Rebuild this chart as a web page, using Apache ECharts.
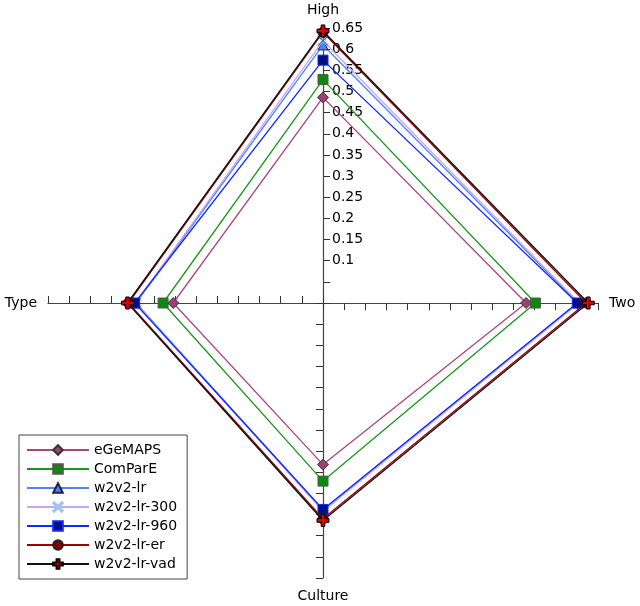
<!DOCTYPE html>
<html><head><meta charset="utf-8">
<script src="https://cdn.jsdelivr.net/npm/echarts@6/dist/echarts.min.js"></script>
<style>html,body{margin:0;padding:0;background:#fff}#c{width:640px;height:606px}</style>
</head><body><div id="c"></div>
<script>
// Axes (counter-clockwise from top)
var axesNames = ['High', 'Type', 'Culture', 'Two'];
var axisMax = 0.65;
var seriesNames = ['eGeMAPS', 'ComParE', 'w2v2-lr', 'w2v2-lr-300', 'w2v2-lr-960', 'w2v2-lr-er', 'w2v2-lr-vad'];
// values per series, order: High, Type, Culture, Two
var eGeMAPS   = [0.486, 0.354, 0.382, 0.480];
var ComParE   = [0.528, 0.378, 0.421, 0.502];
var w2v2lr    = [0.610, 0.442, 0.490, 0.602];
var w2v2lr300 = [0.620, 0.443, 0.492, 0.605];
var w2v2lr960 = [0.574, 0.445, 0.488, 0.601];
var w2v2lrer  = [0.640, 0.460, 0.510, 0.622];
var w2v2lrvad = [0.643, 0.462, 0.514, 0.627];
var seriesValues = [eGeMAPS, ComParE, w2v2lr, w2v2lr300, w2v2lr960, w2v2lrer, w2v2lrvad];

var X_PATH = 'path://M0,1 L1,0 L5,4 L9,0 L10,1 L6,5 L10,9 L9,10 L5,6 L1,10 L0,9 L4,5 Z';
var PLUS_PATH = 'path://M3.5,0 L6.5,0 L6.5,3.5 L10,3.5 L10,6.5 L6.5,6.5 L6.5,10 L3.5,10 L3.5,6.5 L0,6.5 L0,3.5 L3.5,3.5 Z';
var styles = [
  {line: '#a8487a', fill: '#a04070', border: '#333', symbol: 'diamond', size: 11},
  {line: '#1a961a', fill: '#0a8a0a', border: '#555', symbol: 'rect', size: 10},
  {line: '#4f82ff', fill: '#4f82ff', border: '#224', symbol: 'triangle', size: 10},
  {line: '#c6a6f4', fill: '#2a5fb0', border: '#9cc8f0', symbol: X_PATH, size: 11},
  {line: '#1028ff', fill: '#001080', border: '#1028ff', symbol: 'rect', size: 10},
  {line: '#a00000', fill: '#800000', border: '#222', symbol: 'circle', size: 10},
  {line: '#111111', fill: '#e00000', border: '#000', symbol: PLUS_PATH, size: 12}
];

var FONT = 'DejaVu Sans';
var series = [];
// legend helper series (empty data) so legend shows line + marker
seriesNames.forEach(function (n, i) {
  var s = styles[i];
  series.push({
    type: 'line', name: n, data: [], xAxisIndex: 0, yAxisIndex: 0,
    symbol: s.symbol, symbolSize: s.size,
    lineStyle: {color: s.line, width: 1.3},
    itemStyle: {color: s.fill, borderColor: s.border, borderWidth: 1}
  });
});
seriesNames.forEach(function (n, i) {
  var s = styles[i];
  series.push({
    type: 'radar', name: n, z: 2 + i,
    symbol: s.symbol, symbolSize: s.size,
    lineStyle: {color: s.line, width: 1.3},
    itemStyle: {color: s.fill, borderColor: s.border, borderWidth: 1},
    data: [{name: n, value: seriesValues[i]}]
  });
});

var indicators = axesNames.map(function (n, i) {
  var o = {name: n, min: 0, max: axisMax};
  if (i > 0) o.axisLabel = {show: false};
  return o;
});

var chart = echarts.init(document.getElementById('c'), null, {renderer: 'canvas'});
chart.setOption({
  animation: false,
  backgroundColor: '#fff',
  textStyle: {fontFamily: FONT},
  grid: {left: 0, top: 0, width: 1, height: 1, show: false},
  xAxis: {type: 'value', show: false},
  yAxis: {type: 'value', show: false},
  legend: {
    orient: 'vertical', left: 19, top: 435,
    padding: [8, 10, 8, 7],
    itemWidth: 62, itemHeight: 12, itemGap: 5,
    borderColor: '#444', borderWidth: 1,
    textStyle: {fontFamily: FONT, fontSize: 14, color: '#000'},
    data: seriesNames
  },
  radar: {
    center: [323, 303],
    radius: 275,
    startAngle: 90,
    shape: 'polygon',
    splitNumber: 13,
    indicator: indicators,
    nameGap: 11,
    axisName: {color: '#000', fontSize: 14, fontFamily: FONT},
    axisLine: {lineStyle: {color: '#444', width: 1.2}},
    axisTick: {show: true, length: -7, lineStyle: {color: '#333', width: 1}},
    axisLabel: {
      show: true, color: '#000', fontSize: 14, fontFamily: FONT, margin: -9, align: 'left',
      formatter: function (v) { return v < 0.09 ? '' : String(Math.round(v * 100) / 100); }
    },
    splitLine: {show: false},
    splitArea: {show: false}
  },
  series: series
});
</script></body></html>
